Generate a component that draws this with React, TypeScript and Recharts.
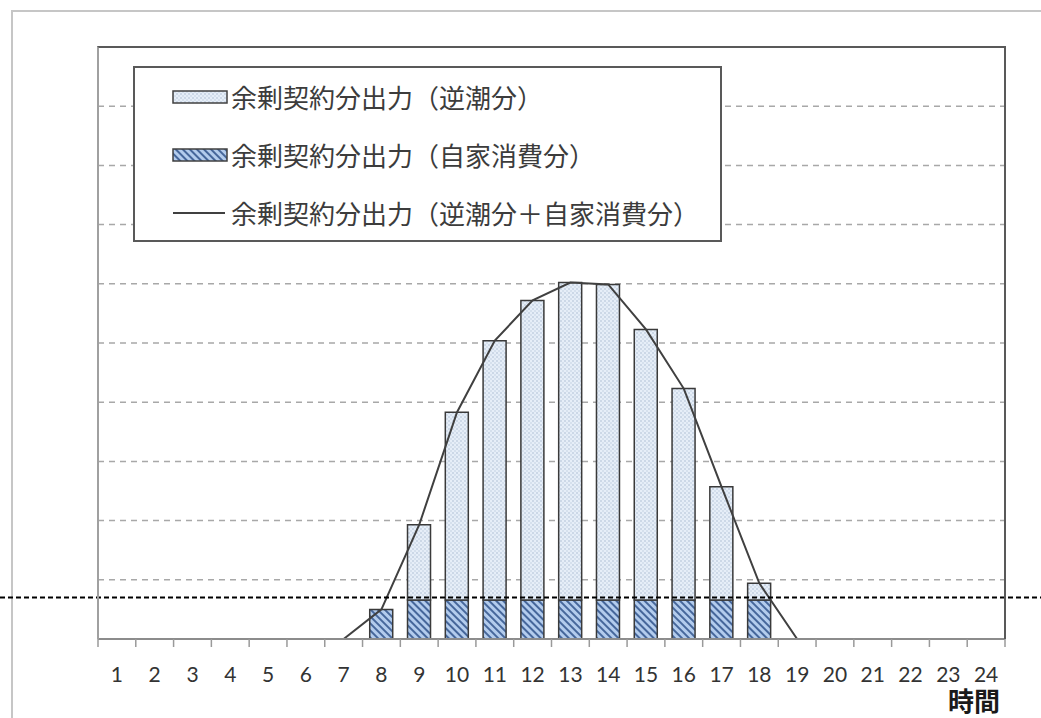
import { Bar, CartesianGrid, ComposedChart, Line, ReferenceLine, XAxis, YAxis } from 'recharts'

// hours of the day
const hours = ['1', '2', '3', '4', '5', '6', '7', '8', '9', '10', '11', '12', '13', '14', '15', '16', '17', '18', '19', '20', '21', '22', '23', '24']
// 余剰契約分出力（自家消費分）
const selfUse = [0, 0, 0, 0, 0, 0, 0, 0.5, 0.66, 0.66, 0.66, 0.66, 0.66, 0.66, 0.66, 0.66, 0.66, 0.66, 0, 0, 0, 0, 0, 0]
// 余剰契約分出力（逆潮分）
const reverseFlow = [0, 0, 0, 0, 0, 0, 0, 0, 1.27, 3.17, 4.38, 5.06, 5.36, 5.33, 4.57, 3.57, 1.91, 0.28, 0, 0, 0, 0, 0, 0]
// 余剰契約分出力（逆潮分＋自家消費分）
const totalOutput = [0, 0, 0, 0, 0, 0, 0, 0.5, 1.93, 3.83, 5.04, 5.72, 6.02, 5.99, 5.23, 4.23, 2.57, 0.94, 0, 0, 0, 0, 0, 0]
const yTicks = [0, 1, 2, 3, 4, 5, 6, 7, 8, 9, 10]
const markLevel = 0.7

const NAME_REVERSE = '余剰契約分出力（逆潮分）'
const NAME_SELF = '余剰契約分出力（自家消費分）'
const NAME_TOTAL = '余剰契約分出力（逆潮分＋自家消費分）'

const data = hours.map((h, i) => ({
  hour: h,
  self: selfUse[i],
  reverse: reverseFlow[i],
  total: totalOutput[i],
}))

const W = 1041
const H = 718
const X_AXIS_H = 40
const margin = { top: 47, right: 36, bottom: 39, left: 98 }
const PLOT_W = W - margin.left - margin.right
const PLOT_H = H - margin.top - margin.bottom - X_AXIS_H
const BAND = PLOT_W / hours.length
const BORDER = '#595959'
const CJK = '"Noto Sans CJK JP", "Noto Sans", sans-serif'

function HourTick(props: any) {
  const { x, y, payload, index } = props
  const half = BAND / 2
  return (
    <g>
      <line x1={x - half} y1={y} x2={x - half} y2={y + 8} stroke="#9a9a9a" strokeWidth={1.5} />
      {index === hours.length - 1 && (
        <line x1={x + half} y1={y} x2={x + half} y2={y + 8} stroke="#9a9a9a" strokeWidth={1.5} />
      )}
      <text x={x} y={y + 43} textAnchor="middle" fontSize={21} fill="#333" fontFamily="Lato, sans-serif">
        {payload.value}
      </text>
    </g>
  )
}

function Swatch({ fill }: { fill: string }) {
  return (
    <svg width={56} height={16} style={{ display: 'block' }}>
      <rect x={1} y={2} width={54} height={12} fill={fill} stroke="#404040" strokeWidth={1.5} />
    </svg>
  )
}

function LegendBox() {
  const rows = [
    { name: NAME_REVERSE, icon: <Swatch fill="url(#dotFill)" /> },
    { name: NAME_SELF, icon: <Swatch fill="url(#hatchFill)" /> },
    {
      name: NAME_TOTAL,
      icon: (
        <svg width={56} height={16} style={{ display: 'block' }}>
          <line x1={1} y1={8} x2={53} y2={8} stroke="#404040" strokeWidth={2} />
        </svg>
      ),
    },
  ]
  return (
    <div
      style={{
        position: 'absolute',
        left: 133,
        top: 66,
        width: 589,
        height: 176,
        boxSizing: 'border-box',
        border: `2px solid ${BORDER}`,
        background: '#fff',
      }}
    >
      {rows.map((r, i) => (
        <div
          key={r.name}
          style={{
            position: 'absolute',
            left: 37,
            top: 13 + i * 58,
            height: 32,
            display: 'flex',
            alignItems: 'center',
            gap: 3,
            whiteSpace: 'nowrap',
          }}
        >
          {r.icon}
          <span style={{ fontFamily: CJK, fontSize: 26, color: '#3c3c3c', lineHeight: '32px' }}>{r.name}</span>
        </div>
      ))}
    </div>
  )
}

export default function App() {
  return (
    <div style={{ position: 'absolute', left: 0, top: 0, width: W, height: H, overflow: 'hidden', background: '#fff' }}>
      {/* outer picture frame */}
      <div
        style={{
          position: 'absolute',
          left: 11,
          top: 10,
          width: W,
          height: H,
          borderLeft: '2px solid #c6c6c6',
          borderTop: '2px solid #c6c6c6',
        }}
      />
      <div style={{ position: 'absolute', left: 0, top: 0 }}>
        <ComposedChart width={W} height={H} data={data} margin={margin} barCategoryGap="19%">
          <defs>
            <pattern id="dotFill" patternUnits="userSpaceOnUse" width={4} height={4}>
              <rect width={4} height={4} fill="#e6eef8" />
              <circle cx={1} cy={1} r={0.7} fill="#9fb2cb" />
              <circle cx={3} cy={3} r={0.7} fill="#b7c7dc" />
            </pattern>
            <pattern id="hatchFill" patternUnits="userSpaceOnUse" width={5} height={5} patternTransform="rotate(-45)">
              <rect width={5} height={5} fill="#b3cced" />
              <rect width={2} height={5} fill="#46679b" />
            </pattern>
          </defs>
          <CartesianGrid
            vertical={false}
            horizontalValues={yTicks}
            stroke="#a8a8a8"
            strokeWidth={1.5}
            strokeDasharray="6 5"
          />
          <XAxis
            dataKey="hour"
            interval={0}
            height={X_AXIS_H}
            tickSize={0}
            tickMargin={0}
            tickLine={false}
            axisLine={{ stroke: '#8c8c8c', strokeWidth: 2 }}
            tick={<HourTick />}
            label={{
              content: ({ viewBox }: any) => (
                <text
                  x={viewBox.x + viewBox.width - 31}
                  y={viewBox.y + 72}
                  textAnchor="middle"
                  fontSize={26}
                  fontWeight={700}
                  fill="#1a1a1a"
                  fontFamily={CJK}
                >
                  時間
                </text>
              ),
            }}
          />
          <YAxis width={0} domain={[0, 10]} ticks={yTicks} tick={() => <g />} tickLine={false} axisLine={false} />
          <Bar
            dataKey="self"
            name={NAME_SELF}
            stackId="out"
            fill="url(#hatchFill)"
            stroke="#3a3a3a"
            strokeWidth={1.5}
            isAnimationActive={false}
          />
          <Bar
            dataKey="reverse"
            name={NAME_REVERSE}
            stackId="out"
            fill="url(#dotFill)"
            stroke="#3a3a3a"
            strokeWidth={1.5}
            isAnimationActive={false}
          />
          <Line
            type="linear"
            dataKey="total"
            name={NAME_TOTAL}
            stroke="#404040"
            strokeWidth={2}
            dot={false}
            activeDot={false}
            isAnimationActive={false}
          />
          <ReferenceLine
            y={markLevel}
            shape={(p: any) => (
              <line x1={0} y1={p.y1} x2={W} y2={p.y2} stroke="#000" strokeWidth={2} strokeDasharray="5 3" />
            )}
          />
        </ComposedChart>
      </div>
      {/* plot area frame, drawn over the grid */}
      <div
        style={{
          position: 'absolute',
          left: margin.left - 1,
          top: margin.top - 1,
          width: PLOT_W + 2,
          height: PLOT_H + 1,
          boxSizing: 'border-box',
          borderTop: `2px solid ${BORDER}`,
          borderRight: `2px solid ${BORDER}`,
          borderLeft: '2px solid #a0a0a0',
          pointerEvents: 'none',
        }}
      />
      <LegendBox />
    </div>
  )
}
